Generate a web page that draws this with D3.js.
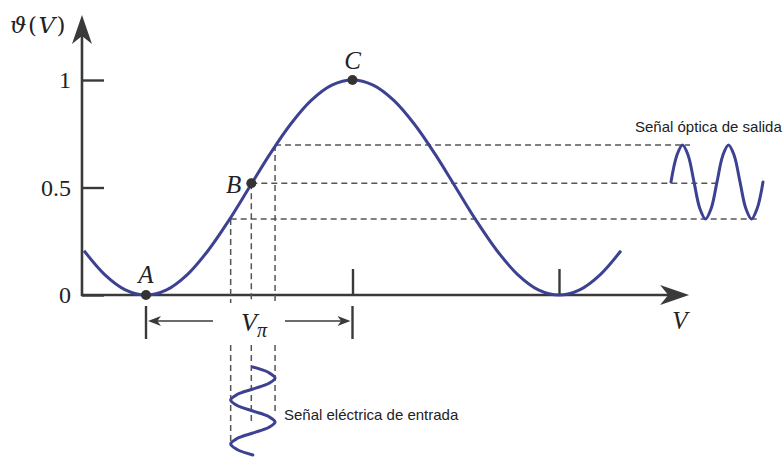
<!DOCTYPE html>
<html>
<head>
<meta charset="utf-8">
<script src="https://cdn.jsdelivr.net/npm/d3@7"></script>
<style>
  body { margin: 0; background: #fff; }
  svg { display: block; }
</style>
</head>
<body>
<svg id="chart" width="783" height="462"></svg>
<script>
// Transfer function samples: normalised optical output vs drive voltage (in units of Vπ)
const curveV = [-0.3, -0.2, -0.1, 0, 0.1, 0.2, 0.3, 0.4, 0.5, 0.6, 0.7, 0.8, 0.9, 1.0,
                1.1, 1.2, 1.3, 1.4, 1.5, 1.6, 1.7, 1.8, 1.9, 2.0, 2.1, 2.2, 2.3];
const curveT = [0.206, 0.095, 0.024, 0, 0.024, 0.095, 0.206, 0.345, 0.5, 0.655, 0.794, 0.905, 0.976, 1,
                0.976, 0.905, 0.794, 0.655, 0.5, 0.345, 0.206, 0.095, 0.024, 0, 0.024, 0.095, 0.206];

// Axis ticks
const yTicks = [0, 0.5, 1];
const yTickLabels = ["0", "0.5", "1"];
const xTicks = [1, 2];

// Marked operating points
const pointNames = ["A", "B", "C"];
const pointV = [0, 0.51, 1];
const pointT = [0, 0.52, 1];

// Drive swing around bias point B (low, bias, high) and the resulting output levels
const inputLevels = [0.41, 0.51, 0.625];
const outputLevels = [0.354, 0.52, 0.698];

// One drive waveform, sampled every eighth of a period over two periods
const signalPhase = [0, 0.125, 0.25, 0.375, 0.5, 0.625, 0.75, 0.875, 1,
                     1.125, 1.25, 1.375, 1.5, 1.625, 1.75, 1.875, 2];
const signalShape = [0, 0.71, 1, 0.71, 0, -0.71, -1, -0.71, 0,
                     0.71, 1, 0.71, 0, -0.71, -1, -0.71, 0];

const curveColor = "#3d4192";
const axisColor = "#3a3a3a";
const dashColor = "#555";
const mathFont = "'Liberation Serif', 'DejaVu Serif', serif";
const titleFont = "'DejaVu Serif', 'Liberation Serif', serif";
const textFont = "'Liberation Sans', Arial, sans-serif";

const svg = d3.select("#chart");

const x = d3.scaleLinear().domain([0, 2]).range([146, 559]);
const y = d3.scaleLinear().domain([0, 1]).range([295, 80]);

// Time scales for the two small waveforms
const tIn = d3.scaleLinear().domain([0, 2]).range([367, 455]);
const tOut = d3.scaleLinear().domain([0, 2]).range([671, 763]);

const xMin = -0.31, xMax = 2.63, yMax = 1.302;

// Stealth-style arrowhead pointing along +x, tip at origin
function arrowHead(len, half) {
  return `M0,0 L${-len},${-half} L${-len * 0.72},0 L${-len},${half} Z`;
}

// ---- axes ----
const gAxes = svg.append("g");

gAxes.append("line")
  .attr("x1", x(xMin)).attr("y1", y(0))
  .attr("x2", x(xMax) - 10).attr("y2", y(0))
  .attr("stroke", axisColor).attr("stroke-width", 2.6);
gAxes.append("path")
  .attr("d", arrowHead(29, 10))
  .attr("transform", `translate(${x(xMax)},${y(0)})`)
  .attr("fill", axisColor);

gAxes.append("line")
  .attr("x1", x(xMin)).attr("y1", y(0) + 1.3)
  .attr("x2", x(xMin)).attr("y2", y(yMax) + 10)
  .attr("stroke", axisColor).attr("stroke-width", 2.6);
gAxes.append("path")
  .attr("d", arrowHead(29, 10))
  .attr("transform", `translate(${x(xMin)},${y(yMax)}) rotate(-90)`)
  .attr("fill", axisColor);

// y ticks drawn inward, labels on the left
const yAxis = d3.axisLeft(y)
  .tickValues(yTicks)
  .tickFormat((d, i) => yTickLabels[i])
  .tickSizeInner(-22)
  .tickSizeOuter(0)
  .tickPadding(11);
const gy = svg.append("g")
  .attr("transform", `translate(${x(xMin)},0)`)
  .call(yAxis);
gy.select(".domain").remove();
gy.selectAll(".tick line").attr("stroke", axisColor).attr("stroke-width", 2.4);
gy.selectAll(".tick text")
  .attr("font-family", mathFont).attr("font-size", 24).attr("fill", "#222");

// x ticks pointing up at the peak and the next null
const xAxis = d3.axisBottom(x)
  .tickValues(xTicks)
  .tickFormat("")
  .tickSizeInner(-26)
  .tickSizeOuter(0);
const gx = svg.append("g")
  .attr("transform", `translate(0,${y(0)})`)
  .call(xAxis);
gx.select(".domain").remove();
gx.selectAll(".tick line").attr("stroke", axisColor).attr("stroke-width", 2.4);

// axis titles
const yTitle = svg.append("text")
  .attr("x", 10).attr("y", 33)
  .attr("font-family", titleFont).attr("font-size", 23)
  .attr("letter-spacing", 1.5).attr("fill", "#222");
yTitle.append("tspan").attr("font-style", "italic").text("ϑ");
yTitle.append("tspan").text("(");
yTitle.append("tspan").attr("font-style", "italic").text("V");
yTitle.append("tspan").text(")");

svg.append("text")
  .attr("x", 680).attr("y", 329)
  .attr("text-anchor", "middle")
  .attr("font-family", mathFont).attr("font-style", "italic")
  .attr("font-size", 25).attr("fill", "#222")
  .text("V");

// ---- projection lines ----
const dash = "6,4";
const gDash = svg.append("g")
  .attr("stroke", dashColor).attr("stroke-width", 1.5)
  .attr("stroke-dasharray", dash).attr("fill", "none");

const hEnds = [760, 720, 690];
inputLevels.forEach((v, i) => {
  // from the curve down to the V axis
  gDash.append("line")
    .attr("x1", x(v)).attr("y1", y(outputLevels[i]))
    .attr("x2", x(v)).attr("y2", y(0) + 8);
  // from the curve across to the output waveform
  gDash.append("line")
    .attr("x1", x(v)).attr("y1", y(outputLevels[i]))
    .attr("x2", hEnds[i]).attr("y2", y(outputLevels[i]));
});

// guides around the drive waveform
const vEnds = [442, 422, 412];
inputLevels.forEach((v, i) => {
  gDash.append("line")
    .attr("x1", x(v)).attr("y1", 345)
    .attr("x2", x(v)).attr("y2", vEnds[i]);
});

// ---- transfer curve ----
const curveData = curveV.map((v, i) => ({ v, t: curveT[i] }));
svg.append("path")
  .datum(curveData)
  .attr("fill", "none")
  .attr("stroke", curveColor)
  .attr("stroke-width", 3)
  .attr("d", d3.line().x(d => x(d.v)).y(d => y(d.t)).curve(d3.curveCatmullRom.alpha(0.5)));

// ---- drive waveform (vertical, below the axis) ----
const inLo = inputLevels[0], inHi = inputLevels[2];
const inputData = signalPhase.map((p, i) => ({ p, s: signalShape[i] }));
svg.append("path")
  .datum(inputData)
  .attr("fill", "none")
  .attr("stroke", curveColor)
  .attr("stroke-width", 3)
  .attr("stroke-linecap", "round")
  .attr("d", d3.line()
    .x(d => x(inLo + (d.s + 1) / 2 * (inHi - inLo)))
    .y(d => tIn(d.p))
    .curve(d3.curveCatmullRom.alpha(0.5)));

// ---- optical output waveform (horizontal, right side) ----
const outLo = outputLevels[0], outHi = outputLevels[2];
svg.append("path")
  .datum(inputData)
  .attr("fill", "none")
  .attr("stroke", curveColor)
  .attr("stroke-width", 3)
  .attr("stroke-linecap", "round")
  .attr("d", d3.line()
    .x(d => tOut(d.p))
    .y(d => y(outLo + (d.s + 1) / 2 * (outHi - outLo)))
    .curve(d3.curveCatmullRom.alpha(0.5)));

// ---- operating points ----
const pts = pointNames.map((n, i) => ({ n, v: pointV[i], t: pointT[i] }));
svg.selectAll("circle.pt")
  .data(pts).enter().append("circle")
  .attr("class", "pt")
  .attr("cx", d => x(d.v)).attr("cy", d => y(d.t))
  .attr("r", 5).attr("fill", "#333");

const labelPos = {
  A: { dx: 0, dy: -12, anchor: "middle" },
  B: { dx: -10, dy: 10, anchor: "end" },
  C: { dx: 0, dy: -11, anchor: "middle" }
};
svg.selectAll("text.pt")
  .data(pts).enter().append("text")
  .attr("class", "pt")
  .attr("x", d => x(d.v) + labelPos[d.n].dx)
  .attr("y", d => y(d.t) + labelPos[d.n].dy)
  .attr("text-anchor", d => labelPos[d.n].anchor)
  .attr("font-family", mathFont).attr("font-style", "italic")
  .attr("font-size", 25).attr("fill", "#222")
  .text(d => d.n);

// ---- Vπ span ----
const gSpan = svg.append("g");
const spanY = 321;
[0, 1].forEach(v => {
  gSpan.append("line")
    .attr("x1", x(v)).attr("y1", 306)
    .attr("x2", x(v)).attr("y2", 339)
    .attr("stroke", axisColor).attr("stroke-width", 2.4);
});
gSpan.append("line")
  .attr("x1", 213).attr("y1", spanY).attr("x2", x(0) + 10).attr("y2", spanY)
  .attr("stroke", axisColor).attr("stroke-width", 1.6);
gSpan.append("path")
  .attr("d", arrowHead(13, 5))
  .attr("transform", `translate(${x(0) + 2},${spanY}) rotate(180)`)
  .attr("fill", axisColor);
gSpan.append("line")
  .attr("x1", 285).attr("y1", spanY).attr("x2", x(1) - 10).attr("y2", spanY)
  .attr("stroke", axisColor).attr("stroke-width", 1.6);
gSpan.append("path")
  .attr("d", arrowHead(13, 5))
  .attr("transform", `translate(${x(1) - 2},${spanY})`)
  .attr("fill", axisColor);

const vpi = gSpan.append("text")
  .attr("x", 254).attr("y", 331)
  .attr("text-anchor", "middle")
  .attr("font-family", mathFont).attr("font-style", "italic")
  .attr("font-size", 26).attr("fill", "#222");
vpi.append("tspan").text("V");
vpi.append("tspan").attr("dy", 6).attr("font-size", 20).text("π");

// ---- captions ----
svg.append("text")
  .attr("x", 635).attr("y", 132)
  .attr("font-family", textFont).attr("font-size", 15).attr("fill", "#222")
  .text("Señal óptica de salida");
svg.append("text")
  .attr("x", 284).attr("y", 420)
  .attr("font-family", textFont).attr("font-size", 15).attr("fill", "#222")
  .text("Señal eléctrica de entrada");
</script>
</body>
</html>
